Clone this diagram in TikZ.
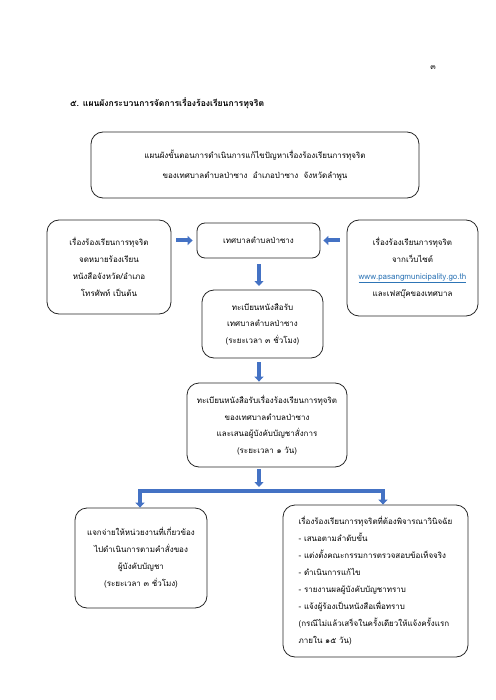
\documentclass[tikz,border=0pt]{standalone}
\usepackage{fontspec}
\newfontfamily\thai[Script=Thai]{Loma}
\usetikzlibrary{arrows.meta}
\definecolor{arrblue}{HTML}{4472C4}
\definecolor{linkblue}{HTML}{2E75B6}
\newcommand\thsize[2]{\thai\fontsize{#1}{#2}\selectfont\lineskiplimit=-20pt\relax}
\tikzset{
  box/.style={draw=black!85, line width=0.8pt, rounded corners=12pt, align=center,
    inner sep=2pt, font=\thsize{8}{17}},
  blockarrow/.style={draw=arrblue, line width=4pt, -{Triangle[width=9pt,length=5pt]}},
  barline/.style={draw=arrblue, line width=4pt},
  txt/.style={font=\thsize{8}{9}, inner sep=0pt}
}
\begin{document}
\begin{tikzpicture}[x=1pt,y=-1pt]
\useasboundingbox (0,0) rectangle (495,700);
\node[txt, anchor=center] (pg) at (433,68) {๓};
\node[txt, anchor=west, font=\thai\bfseries\fontsize{8.6}{9}\selectfont] (title) at (70,103) {๕. แผนผังกระบวนการจัดการเรื่องร้องเรียนการทุจริต};

\node[box, minimum width=328pt, minimum height=66pt, font=\thsize{8}{20}] (top) at (255,165)
  {แผนผังขั้นตอนการดำเนินการแก้ไขปัญหาเรื่องร้องเรียนการทุจริต\\ของเทศบาลตำบลป่าซาง\ \ อำเภอป่าซาง\ \ จังหวัดลำพูน};

\node[box, minimum width=124pt, minimum height=94pt] (left) at (109,267)
  {เรื่องร้องเรียนการทุจริต\\จดหมายร้องเรียน\\หนังสือจังหวัด/อำเภอ\\โทรศัพท์ เป็นต้น};

\node[box, minimum width=123pt, minimum height=35pt, rounded corners=8pt] (center) at (258.5,240.5)
  {เทศบาลตำบลป่าซาง};

\node[box, minimum width=131pt, minimum height=96pt] (right) at (412.5,268)
  {เรื่องร้องเรียนการทุจริต\\จากเว็บไซต์\\{\color{linkblue}\underline{www.pasangmunicipality.go.th}}\\และเฟสบุ๊คของเทศบาล};

\node[box, minimum width=121pt, minimum height=68pt, font=\thsize{8}{16.5}] (reg) at (262.5,324)
  {ทะเบียนหนังสือรับ\\เทศบาลตำบลป่าซาง\\(ระยะเวลา ๓ ชั่วโมง)};

\node[box, minimum width=160pt, minimum height=84pt, font=\thsize{8}{16.5}] (reg2) at (267,425)
  {ทะเบียนหนังสือรับเรื่องร้องเรียนการทุจริต\\ของเทศบาลตำบลป่าซาง\\และเสนอผู้บังคับบัญชาสั่งการ\\(ระยะเวลา ๑ วัน)};

\node[box, minimum width=132pt, minimum height=100pt] (dist) at (141,558)
  {แจกจ่ายให้หน่วยงานที่เกี่ยวข้อง\\ไปดำเนินการตามคำสั่งของ\\ผู้บังคับบัญชา\\(ระยะเวลา ๓ ชั่วโมง)};

\node[box, minimum width=185pt, minimum height=152pt, align=left] (cons) at (375.5,581)
  {เรื่องร้องเรียนการทุจริตที่ต้องพิจารณาวินิจฉัย\\
   - เสนอตามลำดับขั้น\\
   - แต่งตั้งคณะกรรมการตรวจสอบข้อเท็จจริง\\
   - ดำเนินการแก้ไข\\
   - รายงานผลผู้บังคับบัญชาทราบ\\
   - แจ้งผู้ร้องเป็นหนังสือเพื่อทราบ\\
   (กรณีไม่แล้วเสร็จในครั้งเดียวให้แจ้งครั้งแรก\\
   ภายใน ๑๕ วัน)};

% arrows
\draw[blockarrow, shorten <=5pt, shorten >=4pt] (left.east |- center.west) -- (center.west);
\draw[blockarrow, shorten <=7pt, shorten >=3pt] (right.west |- center.east) -- (center.east);
\draw[blockarrow, shorten <=6pt, shorten >=4pt] (center.south -| 259,0) -- (259,290);
\coordinate (a3s) at (259,358);
\draw[blockarrow, shorten <=4pt, shorten >=1pt] (a3s) -- (reg2.north -| a3s);
\coordinate (a4s) at (259,467);
\coordinate (bar) at (259,491);
\draw[blockarrow, shorten <=2pt, shorten >=4pt] (a4s) -- (bar);
\coordinate (barl) at (140,491);
\coordinate (barr) at (383,491);
\draw[barline] (barl) -- (barr);
\draw[blockarrow, shorten <=-2pt] (barl) -- (barl |- dist.north);
\draw[blockarrow, shorten <=-2pt] (barr) -- (barr |- cons.north);
\end{tikzpicture}
\end{document}
